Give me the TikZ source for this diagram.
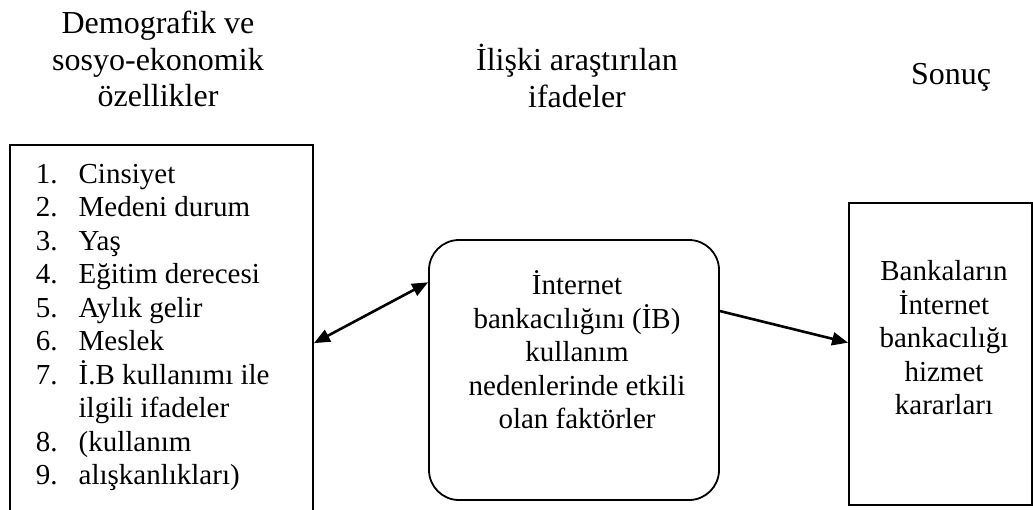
\documentclass[tikz,border=0pt]{standalone}
\usepackage{fontspec}
\setmainfont{Liberation Serif}
\usetikzlibrary{arrows.meta}

\begin{document}
\begin{tikzpicture}
  [x=0.5pt,y=-0.5pt,line width=0.9pt,>={Triangle[length=8pt,width=6.5pt]},
   every node/.style={font=\fontsize{14.5}{16.75}\selectfont},
   head/.style={align=center,font=\fontsize{16}{18.4}\selectfont},
   frame/.style={draw,rectangle,inner sep=0pt},
   link/.style={line width=1.3pt}]
  \useasboundingbox (0,0) rectangle (1033,509);
  \clip (0,0) rectangle (1033,509);

  % headings
  \node[head] (hdemog) at (158,59)  {Demografik ve\\sosyo-ekonomik\\özellikler};
  \node[head] (hrel)   at (577,76)  {İlişki araştırılan\\ifadeler};
  \node[head] (hres)   at (951,77)  {Sonuç};

  % boxes
  \node[frame,minimum width=151.5pt,minimum height=187.5pt] (demog) at (161.5,332.5) {};
  \node[frame,rounded corners=15pt,minimum width=145pt,minimum height=130pt] (factors) at (574,370) {};
  \node[frame,minimum width=91.5pt,minimum height=151pt] (decision) at (940.5,354) {};

  % texts
  \node[anchor=base west,inner sep=0pt] (demoglist) at (35,183)
    {\begin{tabular}[t]{@{}r@{\hspace{10.5pt}}l@{}}
      1. & Cinsiyet\\
      2. & Medeni durum\\
      3. & Yaş\\
      4. & Eğitim derecesi\\
      5. & Aylık gelir\\
      6. & Meslek\\
      7. & İ.B kullanımı ile\\
         & ilgili ifadeler\\
      8. & (kullanım\\
      9. & alışkanlıkları)
    \end{tabular}};
  \node[align=center] (factorstext) at (577,350)
    {İnternet\\bankacılığını (İB)\\kullanım\\nedenlerinde etkili\\olan faktörler};
  \node[align=center] (decisiontext) at (944,338)
    {Bankaların\\İnternet\\bankacılığı\\hizmet\\kararları};

  % arrows
  \draw[link,<->] (demog.-4) -- (factors.149);
  \draw[link,->] (factors.22) -- (decision.173);
\end{tikzpicture}
\end{document}
